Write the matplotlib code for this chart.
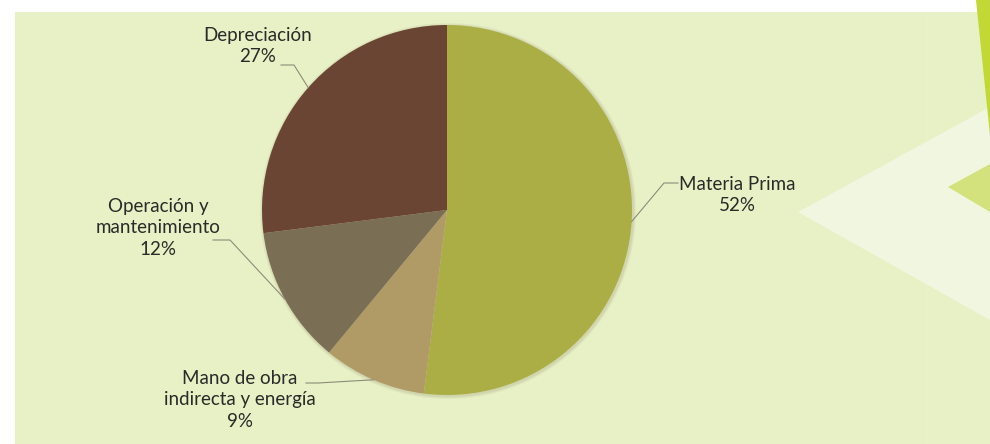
import numpy as np
import matplotlib
matplotlib.use("Agg")
import matplotlib.pyplot as plt
from matplotlib.patches import Polygon, Rectangle, Circle

labels = ["Materia Prima", "Mano de obra\nindirecta y energía", "Operación y\nmantenimiento", "Depreciación"]
values = [52, 9, 12, 27]
colors = ["#AAAE45", "#B09A65", "#7A6E55", "#6B4533"]

W, H = 990, 444
fig = plt.figure(figsize=(9.9, 4.44), dpi=100)
ax = fig.add_axes([0, 0, 1, 1])
fig.patch.set_facecolor("white")

def Y(y):
    return H - y

# background panel
ax.add_patch(Rectangle((15, 0), W - 15, Y(12), facecolor="#E8F0C5", edgecolor="none", zorder=0))
ax.plot([927, 927], [0, Y(12)], color="#EBF2CD", lw=0.6, zorder=0.5)
# decorative triangles
ax.add_patch(Polygon([(798, Y(212)), (990, Y(107)), (990, Y(320))], closed=True,
                     facecolor="#F1F6E1", edgecolor="none", zorder=1))
ax.add_patch(Polygon([(948, Y(187)), (990, Y(164)), (990, Y(212))], closed=True,
                     facecolor="#D3E27C", edgecolor="none", zorder=1.1))
ax.add_patch(Polygon([(976, Y(0)), (990, Y(0)), (990, Y(135))], closed=True,
                     facecolor="#C2D834", edgecolor="none", zorder=1.2))

cx, cy, r = 447, Y(210), 185
# soft shadow
for i, a in enumerate([0.05, 0.05, 0.06]):
    ax.add_patch(Circle((cx + 1, cy - 1), r + 3 - i, facecolor="#5A4A30", alpha=a,
                        edgecolor="none", zorder=2))
wedges, _ = ax.pie(values, colors=colors, startangle=90, counterclock=False,
                   center=(cx, cy), radius=r, frame=True,
                   wedgeprops=dict(edgecolor="none", linewidth=0))
for w in wedges:
    w.set_zorder(3)
ax.set_xlim(0, W)
ax.set_ylim(0, H)
ax.set_aspect("equal")
ax.axis("off")

font = dict(family=["Lato", "DejaVu Sans"], fontsize=13.5, color="#2A2A28",
            ha="center", va="center", linespacing=1.3)

# label text centres and leader elbow points (layout)
text_pos = [(737, 195), (240, 400), (158, 228), (258, 46)]
elbow = [[(678, 183), (664, 183)], [(306, 383), (318, 383)],
         [(213, 240), (230, 240)], [(281, 65), (294, 65)]]

cum = np.cumsum([0] + values)
total = sum(values)
for i, lab in enumerate(labels):
    pct = f"{values[i]}%"
    ax.text(text_pos[i][0], Y(text_pos[i][1]), f"{lab}\n{pct}", zorder=5, **font)
    mid = 90 - 360 * (cum[i] + values[i] / 2) / total
    ex = cx + r * np.cos(np.radians(mid))
    ey = cy + r * np.sin(np.radians(mid))
    xs = [p[0] for p in elbow[i]] + [ex]
    ys = [Y(p[1]) for p in elbow[i]] + [ey]
    ax.plot(xs, ys, color="#8C8C7A", lw=0.8, zorder=4)

fig.savefig("out.png", dpi=100, facecolor="white")
